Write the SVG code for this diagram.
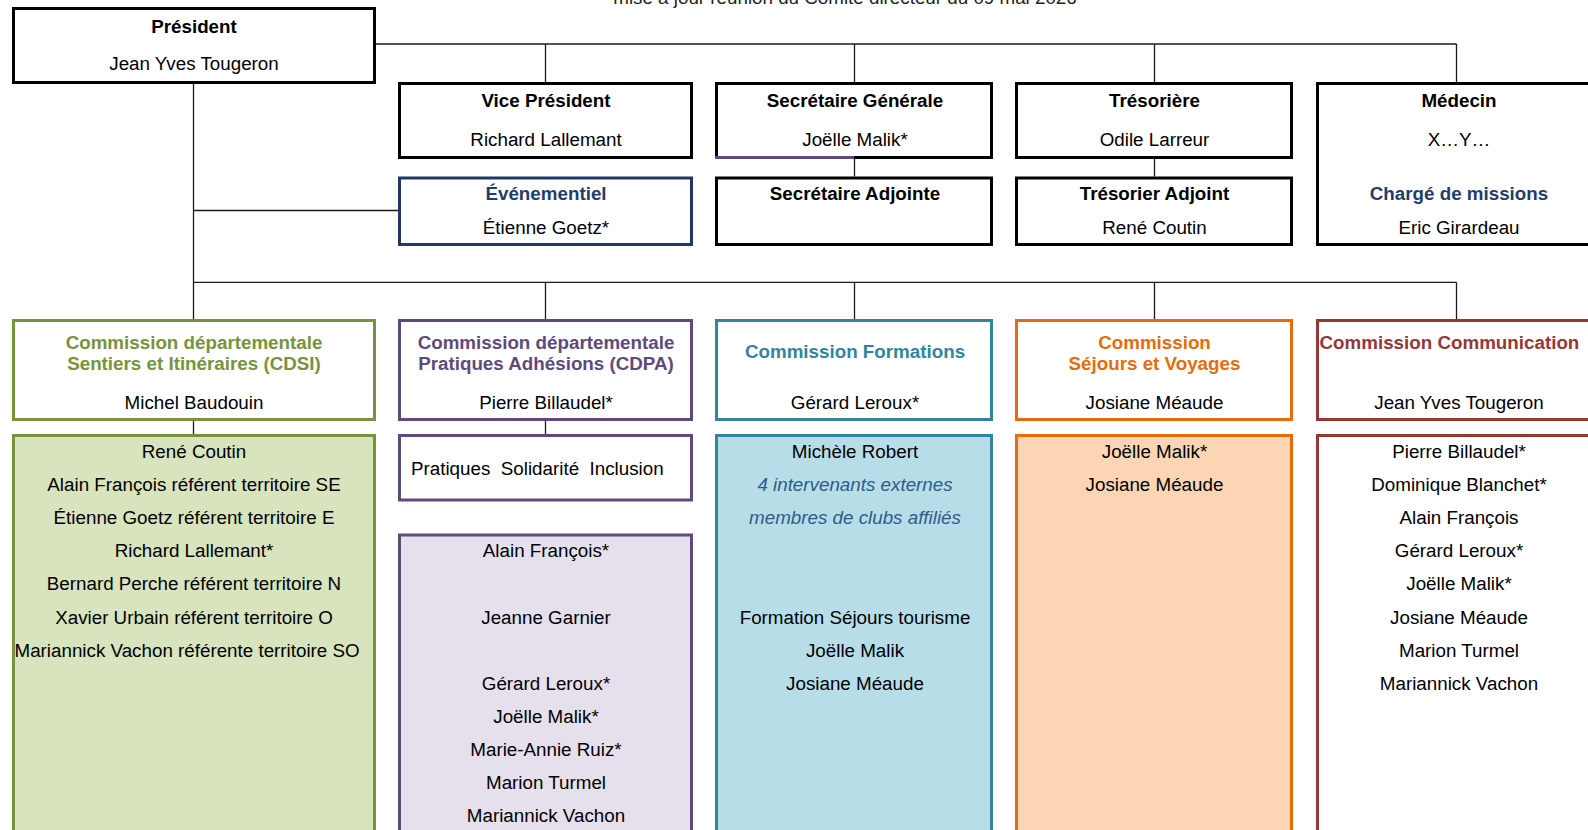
<svg xmlns="http://www.w3.org/2000/svg" width="1588" height="830" viewBox="0 0 1588 830">
<style>
text{font-family:"Liberation Sans",Arial,Helvetica,sans-serif;font-size:18.8px;fill:#000;text-anchor:middle}
.b{font-weight:bold}
.it{font-style:italic;fill:#2B5C8A}
.navy{fill:#1F3D6B}
.box{fill:#fff;stroke:#000;stroke-width:3}
.conn line{stroke:#1a1a1a;stroke-width:1.3}
.green{stroke:#77933C;stroke-width:3}
.purple{stroke:#604A7B;stroke-width:3}
.teal{stroke:#31859C;stroke-width:3}
.orange{stroke:#E46C0A;stroke-width:3}
.red{stroke:#953735;stroke-width:3}
.tg{fill:#77933C}
.tp{fill:#604A7B}
.tt{fill:#31859C}
.to{fill:#E46C0A}
.tr{fill:#953735}
</style>

<text x="845" y="4" style="fill:#222">mise à jour réunion du Comité directeur du 09 mai 2026</text>

<g id="connectors" class="conn">
  <line x1="376" y1="44" x2="1456.5" y2="44"/>
  <line x1="545.5" y1="44" x2="545.5" y2="82"/>
  <line x1="854.5" y1="44" x2="854.5" y2="82"/>
  <line x1="1154.5" y1="44" x2="1154.5" y2="82"/>
  <line x1="1456.5" y1="44" x2="1456.5" y2="82"/>
  <line x1="854.5" y1="159" x2="854.5" y2="176.5"/>
  <line x1="1154.5" y1="159" x2="1154.5" y2="176.5"/>
  <line x1="193.5" y1="84" x2="193.5" y2="319"/>
  <line x1="193.5" y1="210.5" x2="398" y2="210.5"/>
  <line x1="193.5" y1="282.3" x2="1456.5" y2="282.3"/>
  <line x1="545.5" y1="282.3" x2="545.5" y2="319"/>
  <line x1="854.5" y1="282.3" x2="854.5" y2="319"/>
  <line x1="1154.5" y1="282.3" x2="1154.5" y2="319"/>
  <line x1="1456.5" y1="282.3" x2="1456.5" y2="319"/>
  <line x1="193.5" y1="421" x2="193.5" y2="434"/>
  <line x1="545.5" y1="421" x2="545.5" y2="434"/>
</g>

<g id="president">
  <rect class="box" x="13.5" y="8.5" width="361" height="74"/>
  <text class="b" x="194" y="32.7">Président</text>
  <text x="194" y="70">Jean Yves Tougeron</text>
</g>

<g id="vice-president">
  <rect class="box" x="399.5" y="83.5" width="292" height="74"/>
  <text class="b" x="546" y="107.3">Vice Président</text>
  <text x="546" y="146">Richard Lallemant</text>
</g>

<g id="secretaire-generale">
  <rect class="box" x="716.5" y="83.5" width="275" height="74"/>
  <line x1="715" y1="157.5" x2="854" y2="157.5" class="purple"/>
  <text class="b" x="855" y="107.3">Secrétaire Générale</text>
  <text x="855" y="146">Joëlle Malik*</text>
</g>

<g id="tresoriere">
  <rect class="box" x="1016.5" y="83.5" width="275" height="74"/>
  <text class="b" x="1154.5" y="107.3">Trésorière</text>
  <text x="1154.5" y="146">Odile Larreur</text>
</g>

<g id="medecin">
  <rect class="box" x="1317.5" y="83.5" width="290" height="161"/>
  <text class="b" x="1459" y="107.3">Médecin</text>
  <text x="1459" y="146">X…Y…</text>
  <text class="b navy" x="1459" y="200">Chargé de missions</text>
  <text x="1459" y="234">Eric Girardeau</text>
</g>

<g id="evenementiel">
  <rect class="box" x="399.5" y="178" width="292" height="66.5" style="stroke:#1F3864"/>
  <text class="b navy" x="546" y="200">Événementiel</text>
  <text x="546" y="234">Étienne Goetz*</text>
</g>

<g id="secretaire-adjointe">
  <rect class="box" x="716.5" y="178" width="275" height="66.5"/>
  <text class="b" x="855" y="200">Secrétaire Adjointe</text>
</g>

<g id="tresorier-adjoint">
  <rect class="box" x="1016.5" y="178" width="275" height="66.5"/>
  <text class="b" x="1154.5" y="200">Trésorier Adjoint</text>
  <text x="1154.5" y="234">René Coutin</text>
</g>

<g id="cdsi">
  <rect class="green" x="13.5" y="320.5" width="361" height="99" fill="#fff"/>
  <text class="b tg" x="194" y="348.5">Commission départementale</text>
  <text class="b tg" x="194" y="370">Sentiers et Itinéraires (CDSI)</text>
  <text x="194" y="408.5">Michel Baudouin</text>
</g>

<g id="cdpa">
  <rect class="purple" x="399.5" y="320.5" width="292" height="99" fill="#fff"/>
  <text class="b tp" x="546" y="348.5">Commission départementale</text>
  <text class="b tp" x="546" y="370">Pratiques Adhésions (CDPA)</text>
  <text x="546" y="408.5">Pierre Billaudel*</text>
</g>

<g id="formations">
  <rect class="teal" x="716.5" y="320.5" width="275" height="99" fill="#fff"/>
  <text class="b tt" x="855" y="358.3">Commission Formations</text>
  <text x="855" y="408.5">Gérard Leroux*</text>
</g>

<g id="sejours">
  <rect class="orange" x="1016.5" y="320.5" width="275" height="99" fill="#fff"/>
  <text class="b to" x="1154.5" y="348.5">Commission</text>
  <text class="b to" x="1154.5" y="370">Séjours et Voyages</text>
  <text x="1154.5" y="408.5">Josiane Méaude</text>
</g>

<g id="communication">
  <rect class="red" x="1317.5" y="320.5" width="290" height="99" fill="#fff"/>
  <text class="b tr" x="1319.5" y="348.5" style="text-anchor:start">Commission Communication</text>
  <text x="1459" y="408.5">Jean Yves Tougeron</text>
</g>

<g id="cdsi-members">
  <rect class="green" x="13.5" y="435.5" width="361" height="420" fill="#D7E4BD"/>
  <text x="194" y="458">René Coutin</text>
  <text x="194" y="491.1">Alain François référent territoire SE</text>
  <text x="194" y="524.2">Étienne Goetz référent territoire E</text>
  <text x="194" y="557.3">Richard Lallemant*</text>
  <text x="194" y="590.4">Bernard Perche référent territoire N</text>
  <text x="194" y="623.5">Xavier Urbain référent territoire O</text>
  <text x="14.5" y="656.6" style="text-anchor:start">Mariannick Vachon référente territoire SO</text>
</g>

<g id="cdpa-pratiques">
  <rect class="purple" x="399.5" y="435.5" width="292" height="64.5" fill="#fff"/>
  <text x="411" y="475" style="text-anchor:start;white-space:pre" xml:space="preserve">Pratiques  Solidarité  Inclusion</text>
</g>

<g id="cdpa-members">
  <rect class="purple" x="399.5" y="535" width="292" height="320" fill="#E5E0EC"/>
  <text x="546" y="557.3">Alain François*</text>
  <text x="546" y="623.5">Jeanne Garnier</text>
  <text x="546" y="689.7">Gérard Leroux*</text>
  <text x="546" y="722.8">Joëlle Malik*</text>
  <text x="546" y="755.9">Marie-Annie Ruiz*</text>
  <text x="546" y="789">Marion Turmel</text>
  <text x="546" y="822.1">Mariannick Vachon</text>
</g>

<g id="formations-members">
  <rect class="teal" x="716.5" y="435.5" width="275" height="420" fill="#B7DEE8"/>
  <text x="855" y="458">Michèle Robert</text>
  <text class="it" x="855" y="491.1">4 intervenants externes</text>
  <text class="it" x="855" y="524.2">membres de clubs affiliés</text>
  <text x="855" y="623.5">Formation Séjours tourisme</text>
  <text x="855" y="656.6">Joëlle Malik</text>
  <text x="855" y="689.7">Josiane Méaude</text>
</g>

<g id="sejours-members">
  <rect class="orange" x="1016.5" y="435.5" width="275" height="420" fill="#FCD5B5"/>
  <text x="1154.5" y="458">Joëlle Malik*</text>
  <text x="1154.5" y="491.1">Josiane Méaude</text>
</g>

<g id="communication-members">
  <rect class="red" x="1317.5" y="435.5" width="290" height="420" fill="#fff"/>
  <text x="1459" y="458">Pierre Billaudel*</text>
  <text x="1459" y="491.1">Dominique Blanchet*</text>
  <text x="1459" y="524.2">Alain François</text>
  <text x="1459" y="557.3">Gérard Leroux*</text>
  <text x="1459" y="590.4">Joëlle Malik*</text>
  <text x="1459" y="623.5">Josiane Méaude</text>
  <text x="1459" y="656.6">Marion Turmel</text>
  <text x="1459" y="689.7">Mariannick Vachon</text>
</g>
</svg>
